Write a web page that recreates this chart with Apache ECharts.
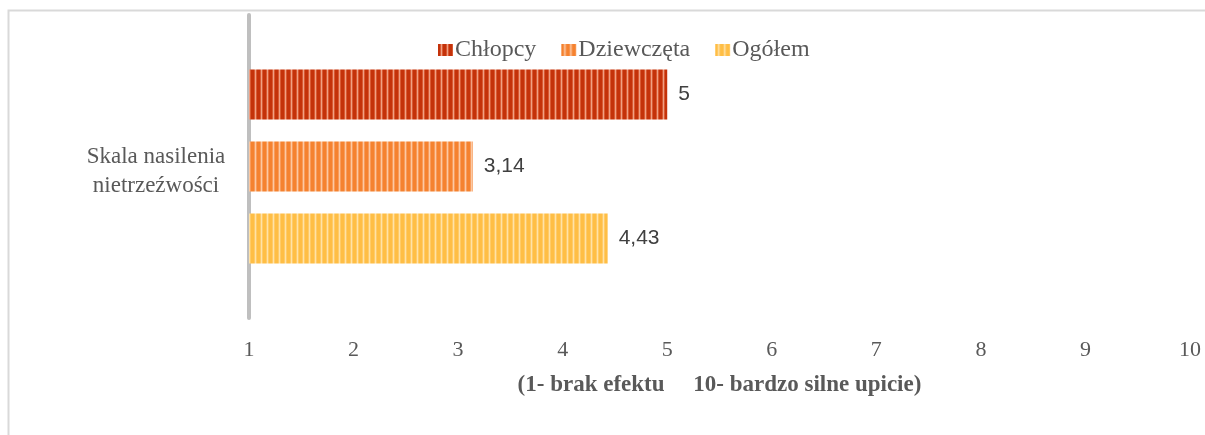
<!DOCTYPE html>
<html>
<head>
<meta charset="utf-8">
<script src="https://cdn.jsdelivr.net/npm/echarts@6/dist/echarts.min.js"></script>
<style>
  html, body { margin: 0; padding: 0; background: #fff; }
  #main { width: 1205px; height: 435px; }
</style>
</head>
<body>
<div id="main"></div>
<script>
var categories = ['Skala nasilenia\nnietrzeźwości'];
var seriesNames = ['Chłopcy', 'Dziewczęta', 'Ogółem'];
var chlopcy = [5];
var dziewczeta = [3.14];
var ogolem = [4.43];
var axisTitle = '(1- brak efektu     10- bardzo silne upicie)';

// paski pionowe jak w Excelu
function stripes(cols) {
    var c = document.createElement('canvas');
    c.width = cols.length;
    c.height = 4;
    var ctx = c.getContext('2d');
    for (var i = 0; i < cols.length; i++) {
        ctx.fillStyle = cols[i];
        ctx.fillRect(i, 0, 1, 4);
    }
    return { image: c, repeat: 'repeat' };
}
var fills = [
    stripes(['#C4320A', '#C4320A', '#D85A33', '#F0A084', '#D85A33', '#C4320A']),
    stripes(['#F5822F', '#F5822F', '#F89C5C', '#FCC9A3', '#F89C5C', '#F5822F']),
    stripes(['#FFBE45', '#FFBE45', '#FFCB68', '#FFE2A8', '#FFCB68', '#FFBE45'])
];

var myChart = echarts.init(document.getElementById('main'));
var dataSets = [chlopcy, dziewczeta, ogolem];
var series = [];
for (var i = 0; i < seriesNames.length; i++) {
    series.push({
        name: seriesNames[i],
        type: 'bar',
        data: dataSets[i],
        barWidth: 50,
        barGap: '44%',
        itemStyle: { color: fills[i] },
        label: {
            show: true,
            position: 'right',
            distance: 11,
            fontFamily: 'Liberation Sans',
            fontSize: 21,
            color: '#404040',
            formatter: function (p) {
                return String(p.value).replace('.', ',');
            }
        }
    });
}

option = {
    backgroundColor: '#FFFFFF',
    animation: false,
    legend: {
        top: 33,
        left: 433,
        itemWidth: 15,
        itemHeight: 12,
        itemGap: 25,
        icon: 'rect',
        data: seriesNames,
        textStyle: {
            fontFamily: 'Liberation Serif',
            fontSize: 24,
            color: '#595959',
            padding: [0, 0, 0, -3]
        }
    },
    grid: {
        left: 249,
        right: 15,
        top: 15,
        bottom: 117
    },
    xAxis: {
        type: 'value',
        min: 1,
        max: 10,
        interval: 1,
        name: axisTitle,
        nameLocation: 'middle',
        nameGap: 56,
        nameTextStyle: {
            fontFamily: 'Liberation Serif',
            fontSize: 23,
            fontWeight: 'bold',
            color: '#595959',
            verticalAlign: 'top'
        },
        axisLine: { show: false },
        axisTick: { show: false },
        splitLine: { show: false },
        axisLabel: {
            margin: 21,
            fontFamily: 'Liberation Serif',
            fontSize: 22,
            color: '#595959'
        }
    },
    yAxis: {
        type: 'category',
        data: categories,
        inverse: true,
        axisLine: { lineStyle: { color: '#BFBFBF', width: 4 } },
        axisTick: { show: false },
        axisLabel: {
            margin: 93,
            fontFamily: 'Liberation Serif',
            fontSize: 23,
            lineHeight: 29,
            color: '#595959',
            align: 'center',
            // mały pusty wiersz u góry, żeby zsunąć opis o kilka pikseli
            formatter: function (v) {
                return '{s|}\n' + v.split('\n').map(function (l) {
                    return '{t|' + l + '}';
                }).join('\n');
            },
            rich: {
                s: { lineHeight: 10, fontSize: 1 },
                t: { fontFamily: 'Liberation Serif', fontSize: 23, lineHeight: 29, color: '#595959' }
            }
        }
    },
    graphic: [{
        type: 'rect',
        shape: { x: 8.5, y: 10.5, width: 1300, height: 500 },
        style: { fill: 'none', stroke: '#D9D9D9', lineWidth: 2 },
        silent: true
    }],
    series: series
};
myChart.setOption(option);
</script>
</body>
</html>
